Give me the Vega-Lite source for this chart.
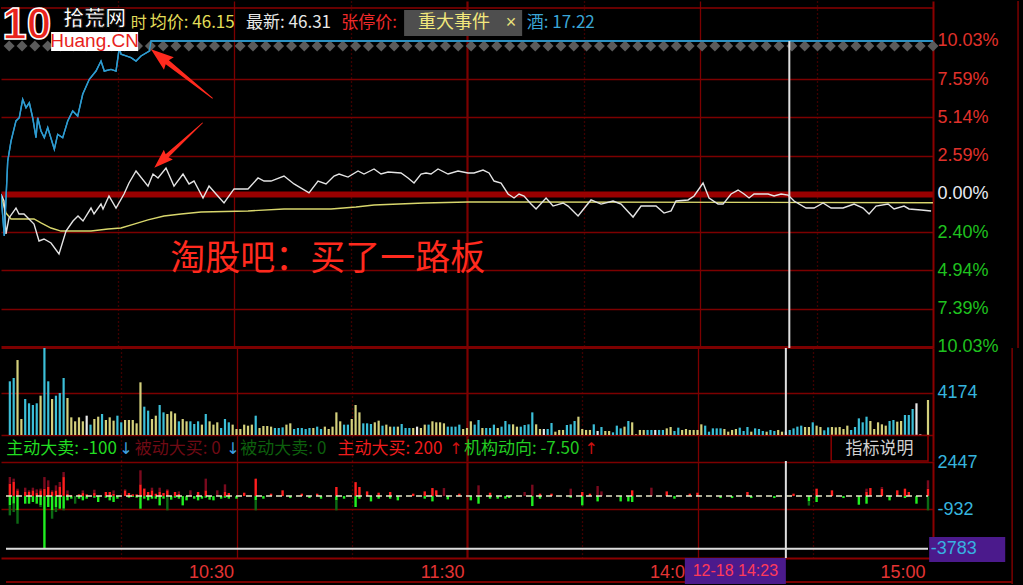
{
"$schema": "https://vega.github.io/schema/vega-lite/v6.json",
"background": "#000000",
"padding": 0,
"spacing": 0,
"bounds": "flush",
"resolve": {"scale": {"color": "independent", "y": "independent"}, "axis": {"y": "independent"}},
"config": {"view": {"stroke": null}, "text": {"font": "Noto Sans CJK SC"}},
"datasets": {
"dia": [{"m":240},{"m":236.7},{"m":233.39},{"m":230.09},{"m":226.78},{"m":223.48},{"m":220.18},{"m":216.87},{"m":213.57},{"m":210.26},{"m":206.96},{"m":203.66},{"m":200.35},{"m":197.05},{"m":193.74},{"m":190.44},{"m":187.14},{"m":183.83},{"m":180.53},{"m":177.22},{"m":173.92},{"m":170.62},{"m":167.31},{"m":164.01},{"m":160.7},{"m":157.4},{"m":154.1},{"m":150.79},{"m":147.49},{"m":144.18},{"m":140.88},{"m":137.58},{"m":134.27},{"m":130.97},{"m":127.66},{"m":124.36},{"m":121.06},{"m":117.75},{"m":114.45},{"m":111.14},{"m":107.84},{"m":104.54},{"m":101.23},{"m":97.93},{"m":94.62},{"m":91.32},{"m":88.02},{"m":84.71},{"m":81.41},{"m":78.1},{"m":74.8},{"m":71.5},{"m":68.19},{"m":64.89},{"m":61.58},{"m":58.28},{"m":54.98},{"m":51.67},{"m":48.37},{"m":45.06},{"m":41.76},{"m":38.46},{"m":35.15},{"m":31.85},{"m":28.54},{"m":25.24},{"m":21.94},{"m":18.63},{"m":15.33},{"m":12.02},{"m":8.72},{"m":5.42},{"m":2.11}],
"lines": [
{"s":"blue","m":0,"v":0},{"s":"blue","m":0.85,"v":-2.75},{"s":"blue","m":1.73,"v":2.16},{"s":"blue","m":2.58,"v":3.47},{"s":"blue","m":3.86,"v":4.79},{"s":"blue","m":4.71,"v":5.0},{"s":"blue","m":5.59,"v":6.21},{"s":"blue","m":6.44,"v":5.66},{"s":"blue","m":7.29,"v":5.98},{"s":"blue","m":8.16,"v":5.0},{"s":"blue","m":9.01,"v":3.69},{"s":"blue","m":9.45,"v":5.0},{"s":"blue","m":10.3,"v":4.13},{"s":"blue","m":11.15,"v":3.69},{"s":"blue","m":12.03,"v":4.35},{"s":"blue","m":13.73,"v":2.93},{"s":"blue","m":14.6,"v":3.91},{"s":"blue","m":15.89,"v":3.69},{"s":"blue","m":17.18,"v":4.79},{"s":"blue","m":18.46,"v":5.44},{"s":"blue","m":19.75,"v":5.11},{"s":"blue","m":21.04,"v":6.54},{"s":"blue","m":22.74,"v":7.52},{"s":"blue","m":24.47,"v":8.06},{"s":"blue","m":25.75,"v":8.72},{"s":"blue","m":26.6,"v":8.06},{"s":"blue","m":28.33,"v":8.17},{"s":"blue","m":29.62,"v":8.06},{"s":"blue","m":30.47,"v":9.59},{"s":"blue","m":30.9,"v":9.16},{"s":"blue","m":32.19,"v":9.05},{"s":"blue","m":33.48,"v":8.94},{"s":"blue","m":34.77,"v":8.72},{"s":"blue","m":36.05,"v":9.05},{"s":"blue","m":38.19,"v":9.37},{"s":"blue","m":38.63,"v":10.03},{"s":"blue","m":240,"v":10.03},
{"s":"avg","m":0,"v":-0.13},{"s":"avg","m":1.29,"v":-1.25},{"s":"avg","m":2.58,"v":-1.64},{"s":"avg","m":8.5,"v":-1.64},{"s":"avg","m":10.3,"v":-1.9},{"s":"avg","m":12.88,"v":-2.23},{"s":"avg","m":15.45,"v":-2.43},{"s":"avg","m":23.18,"v":-2.43},{"s":"avg","m":27.56,"v":-2.29},{"s":"avg","m":30.9,"v":-2.23},{"s":"avg","m":34.25,"v":-1.97},{"s":"avg","m":37.86,"v":-1.7},{"s":"avg","m":41.98,"v":-1.44},{"s":"avg","m":46.36,"v":-1.31},{"s":"avg","m":51.51,"v":-1.18},{"s":"avg","m":63.61,"v":-1.11},{"s":"avg","m":72.88,"v":-0.98},{"s":"avg","m":84.98,"v":-0.98},{"s":"avg","m":91.42,"v":-0.85},{"s":"avg","m":96.06,"v":-0.72},{"s":"avg","m":108.94,"v":-0.59},{"s":"avg","m":120.27,"v":-0.52},{"s":"avg","m":240,"v":-0.57},
{"s":"price","m":0,"v":0},{"s":"price","m":0.77,"v":-0.46},{"s":"price","m":1.29,"v":-2.62},{"s":"price","m":2.06,"v":-1.57},{"s":"price","m":3.86,"v":-0.92},{"s":"price","m":4.64,"v":-1.31},{"s":"price","m":5.92,"v":-1.31},{"s":"price","m":8.5,"v":-1.97},{"s":"price","m":9.79,"v":-3.08},{"s":"price","m":11.07,"v":-2.95},{"s":"price","m":12.88,"v":-3.21},{"s":"price","m":14.94,"v":-3.93},{"s":"price","m":16.74,"v":-2.43},{"s":"price","m":18.54,"v":-1.77},{"s":"price","m":19.83,"v":-1.44},{"s":"price","m":21.12,"v":-1.77},{"s":"price","m":23.18,"v":-0.92},{"s":"price","m":23.95,"v":-1.31},{"s":"price","m":25.75,"v":-0.66},{"s":"price","m":26.27,"v":-0.98},{"s":"price","m":27.81,"v":-0.13},{"s":"price","m":29.62,"v":-0.92},{"s":"price","m":31.68,"v":0},{"s":"price","m":32.96,"v":0.72},{"s":"price","m":34.77,"v":1.51},{"s":"price","m":37.86,"v":0.52},{"s":"price","m":39.14,"v":1.31},{"s":"price","m":40.43,"v":1.05},{"s":"price","m":42.49,"v":1.7},{"s":"price","m":44.55,"v":0.52},{"s":"price","m":46.87,"v":1.31},{"s":"price","m":48.42,"v":0.66},{"s":"price","m":49.7,"v":0.85},{"s":"price","m":52.02,"v":-0.26},{"s":"price","m":53.57,"v":0.52},{"s":"price","m":55.37,"v":0},{"s":"price","m":57.43,"v":-0.59},{"s":"price","m":60.01,"v":0.33},{"s":"price","m":63.61,"v":0.33},{"s":"price","m":66.19,"v":1.05},{"s":"price","m":67.73,"v":0.85},{"s":"price","m":69.53,"v":0.85},{"s":"price","m":72.88,"v":1.18},{"s":"price","m":75.46,"v":0.66},{"s":"price","m":79.32,"v":0.07},{"s":"price","m":81.64,"v":0.85},{"s":"price","m":83.7,"v":0.66},{"s":"price","m":85.76,"v":1.18},{"s":"price","m":87.05,"v":1.31},{"s":"price","m":89.36,"v":1.11},{"s":"price","m":91.94,"v":1.51},{"s":"price","m":93.48,"v":1.31},{"s":"price","m":96.06,"v":1.64},{"s":"price","m":97.86,"v":1.31},{"s":"price","m":99.67,"v":1.44},{"s":"price","m":103.01,"v":1.38},{"s":"price","m":104.82,"v":1.05},{"s":"price","m":106.36,"v":0.72},{"s":"price","m":108.16,"v":1.31},{"s":"price","m":109.45,"v":1.38},{"s":"price","m":110.74,"v":1.31},{"s":"price","m":112.54,"v":1.64},{"s":"price","m":115.12,"v":1.31},{"s":"price","m":117.69,"v":1.51},{"s":"price","m":120.27,"v":1.38},{"s":"price","m":121.81,"v":1.38},{"s":"price","m":124.13,"v":1.57},{"s":"price","m":125.68,"v":1.38},{"s":"price","m":126.96,"v":0.85},{"s":"price","m":128.77,"v":0.72},{"s":"price","m":130.57,"v":0},{"s":"price","m":132.11,"v":-0.26},{"s":"price","m":133.4,"v":0},{"s":"price","m":134.69,"v":-0.13},{"s":"price","m":136.49,"v":-0.66},{"s":"price","m":137.78,"v":-0.98},{"s":"price","m":140.36,"v":-0.26},{"s":"price","m":142.16,"v":-0.79},{"s":"price","m":144.73,"v":-0.59},{"s":"price","m":146.02,"v":-0.79},{"s":"price","m":148.6,"v":-1.44},{"s":"price","m":150.66,"v":-0.79},{"s":"price","m":151.94,"v":-0.39},{"s":"price","m":154.52,"v":-0.66},{"s":"price","m":157.61,"v":-0.46},{"s":"price","m":159.67,"v":-0.66},{"s":"price","m":162.76,"v":-1.51},{"s":"price","m":164.82,"v":-0.79},{"s":"price","m":168.68,"v":-0.79},{"s":"price","m":170.74,"v":-1.25},{"s":"price","m":172.55,"v":-1.11},{"s":"price","m":173.83,"v":-0.46},{"s":"price","m":176.92,"v":-0.39},{"s":"price","m":178.47,"v":-0.13},{"s":"price","m":180.79,"v":0.72},{"s":"price","m":182.33,"v":-0.26},{"s":"price","m":184.65,"v":-0.66},{"s":"price","m":185.94,"v":-0.66},{"s":"price","m":188.0,"v":0},{"s":"price","m":189.8,"v":0.26},{"s":"price","m":191.35,"v":0},{"s":"price","m":192.63,"v":-0.26},{"s":"price","m":193.92,"v":0},{"s":"price","m":197.53,"v":0},{"s":"price","m":199.07,"v":-0.13},{"s":"price","m":200.88,"v":0},{"s":"price","m":202.68,"v":-0.07},{"s":"price","m":204.22,"v":-0.46},{"s":"price","m":207.31,"v":-0.92},{"s":"price","m":209.37,"v":-0.92},{"s":"price","m":211.69,"v":-0.59},{"s":"price","m":213.75,"v":-0.92},{"s":"price","m":216.84,"v":-0.92},{"s":"price","m":219.68,"v":-0.66},{"s":"price","m":221.99,"v":-0.92},{"s":"price","m":223.54,"v":-1.31},{"s":"price","m":225.34,"v":-0.79},{"s":"price","m":228.43,"v":-0.66},{"s":"price","m":229.98,"v":-0.98},{"s":"price","m":232.55,"v":-0.79},{"s":"price","m":233.84,"v":-0.98},{"s":"price","m":236.93,"v":-1.05},{"s":"price","m":239.51,"v":-1.11}
],
"vol": [
{"m":1,"v":5335,"c":"down"},{"m":2,"v":5665,"c":"down"},{"m":3,"v":7450,"c":"up"},{"m":4,"v":1590,"c":"up"},{"m":5,"v":3580,"c":"down"},{"m":6,"v":3150,"c":"down"},{"m":7,"v":2980,"c":"down"},{"m":8,"v":3150,"c":"down"},{"m":9,"v":3910,"c":"up"},{"m":10,"v":8650,"c":"down"},
{"m":11,"v":5335,"c":"down"},{"m":12,"v":3580,"c":"up"},{"m":13,"v":3910,"c":"down"},{"m":14,"v":4170,"c":"down"},{"m":15,"v":5665,"c":"down"},{"m":16,"v":3680,"c":"up"},{"m":17,"v":1755,"c":"up"},{"m":18,"v":1360,"c":"up"},{"m":19,"v":1755,"c":"up"},{"m":20,"v":1360,"c":"up"},
{"m":21,"v":1920,"c":"flat"},{"m":22,"v":1030,"c":"down"},{"m":23,"v":1590,"c":"up"},{"m":24,"v":1820,"c":"up"},{"m":25,"v":2090,"c":"down"},{"m":26,"v":1490,"c":"up"},{"m":27,"v":1755,"c":"up"},{"m":28,"v":1425,"c":"up"},{"m":29,"v":1920,"c":"down"},{"m":30,"v":1260,"c":"down"},
{"m":31,"v":1490,"c":"up"},{"m":32,"v":1490,"c":"up"},{"m":33,"v":1490,"c":"up"},{"m":34,"v":1160,"c":"up"},{"m":35,"v":5235,"c":"up"},{"m":36,"v":2815,"c":"down"},{"m":37,"v":2420,"c":"down"},{"m":38,"v":1590,"c":"up"},{"m":39,"v":1920,"c":"up"},{"m":40,"v":2980,"c":"down"},
{"m":41,"v":2250,"c":"down"},{"m":42,"v":2090,"c":"up"},{"m":43,"v":2350,"c":"up"},{"m":44,"v":2150,"c":"up"},{"m":45,"v":1360,"c":"down"},{"m":46,"v":1590,"c":"up"},{"m":47,"v":1360,"c":"up"},{"m":48,"v":1360,"c":"down"},{"m":49,"v":1095,"c":"down"},{"m":50,"v":1360,"c":"down"},
{"m":51,"v":1030,"c":"up"},{"m":52,"v":2090,"c":"down"},{"m":53,"v":1360,"c":"up"},{"m":54,"v":1030,"c":"up"},{"m":55,"v":1260,"c":"up"},{"m":56,"v":695,"c":"down"},{"m":57,"v":1590,"c":"down"},{"m":58,"v":1260,"c":"down"},{"m":59,"v":1030,"c":"up"},{"m":60,"v":595,"c":"up"},
{"m":61,"v":595,"c":"up"},{"m":62,"v":1030,"c":"up"},{"m":63,"v":925,"c":"up"},{"m":64,"v":1030,"c":"up"},{"m":65,"v":1920,"c":"down"},{"m":66,"v":695,"c":"up"},{"m":67,"v":895,"c":"up"},{"m":68,"v":895,"c":"up"},{"m":69,"v":830,"c":"up"},{"m":70,"v":695,"c":"down"},
{"m":71,"v":695,"c":"down"},{"m":72,"v":760,"c":"down"},{"m":73,"v":1030,"c":"up"},{"m":74,"v":1160,"c":"up"},{"m":75,"v":595,"c":"down"},{"m":76,"v":695,"c":"down"},{"m":77,"v":695,"c":"down"},{"m":78,"v":595,"c":"down"},{"m":79,"v":695,"c":"down"},{"m":80,"v":695,"c":"up"},
{"m":81,"v":830,"c":"down"},{"m":82,"v":595,"c":"down"},{"m":83,"v":830,"c":"up"},{"m":84,"v":595,"c":"up"},{"m":85,"v":830,"c":"up"},{"m":86,"v":2250,"c":"up"},{"m":87,"v":1360,"c":"up"},{"m":88,"v":1030,"c":"down"},{"m":89,"v":1030,"c":"down"},{"m":90,"v":1590,"c":"up"},
{"m":91,"v":2980,"c":"up"},{"m":92,"v":2250,"c":"up"},{"m":93,"v":1160,"c":"down"},{"m":94,"v":1160,"c":"down"},{"m":95,"v":1095,"c":"down"},{"m":96,"v":1260,"c":"up"},{"m":97,"v":1425,"c":"up"},{"m":98,"v":925,"c":"down"},{"m":99,"v":1030,"c":"up"},{"m":100,"v":830,"c":"up"},
{"m":101,"v":830,"c":"down"},{"m":102,"v":830,"c":"up"},{"m":103,"v":1095,"c":"down"},{"m":104,"v":695,"c":"down"},{"m":105,"v":695,"c":"down"},{"m":106,"v":695,"c":"up"},{"m":107,"v":830,"c":"flat"},{"m":108,"v":695,"c":"up"},{"m":109,"v":1030,"c":"up"},{"m":110,"v":1030,"c":"down"},
{"m":111,"v":1360,"c":"up"},{"m":112,"v":1260,"c":"up"},{"m":113,"v":1260,"c":"up"},{"m":114,"v":1160,"c":"up"},{"m":115,"v":830,"c":"down"},{"m":116,"v":830,"c":"down"},{"m":117,"v":830,"c":"down"},{"m":118,"v":1030,"c":"down"},{"m":119,"v":595,"c":"up"},{"m":120,"v":695,"c":"up"},
{"m":121,"v":1360,"c":"up"},{"m":122,"v":1030,"c":"down"},{"m":123,"v":1490,"c":"down"},{"m":124,"v":695,"c":"up"},{"m":125,"v":695,"c":"down"},{"m":126,"v":695,"c":"down"},{"m":127,"v":1030,"c":"down"},{"m":128,"v":695,"c":"up"},{"m":129,"v":830,"c":"down"},{"m":130,"v":1390,"c":"down"},
{"m":131,"v":1060,"c":"down"},{"m":132,"v":1060,"c":"up"},{"m":133,"v":830,"c":"up"},{"m":134,"v":830,"c":"down"},{"m":135,"v":995,"c":"down"},{"m":136,"v":1060,"c":"down"},{"m":137,"v":2250,"c":"down"},{"m":138,"v":1060,"c":"up"},{"m":139,"v":595,"c":"up"},{"m":140,"v":595,"c":"flat"},
{"m":141,"v":595,"c":"down"},{"m":142,"v":1190,"c":"down"},{"m":143,"v":330,"c":"up"},{"m":144,"v":500,"c":"up"},{"m":145,"v":500,"c":"up"},{"m":146,"v":995,"c":"down"},{"m":147,"v":1060,"c":"down"},{"m":148,"v":1390,"c":"down"},{"m":149,"v":1820,"c":"up"},{"m":150,"v":595,"c":"up"},
{"m":151,"v":500,"c":"up"},{"m":152,"v":500,"c":"up"},{"m":153,"v":1060,"c":"down"},{"m":154,"v":400,"c":"flat"},{"m":155,"v":795,"c":"down"},{"m":156,"v":400,"c":"up"},{"m":157,"v":400,"c":"up"},{"m":158,"v":265,"c":"down"},{"m":159,"v":930,"c":"down"},{"m":160,"v":660,"c":"down"},
{"m":161,"v":830,"c":"up"},{"m":162,"v":1390,"c":"down"},{"m":163,"v":1260,"c":"up"},{"m":164,"v":66,"c":"up"},{"m":165,"v":500,"c":"up"},{"m":166,"v":500,"c":"up"},{"m":167,"v":500,"c":"down"},{"m":168,"v":500,"c":"down"},{"m":169,"v":500,"c":"flat"},{"m":170,"v":500,"c":"down"},
{"m":171,"v":500,"c":"down"},{"m":172,"v":660,"c":"up"},{"m":173,"v":795,"c":"up"},{"m":174,"v":400,"c":"down"},{"m":175,"v":730,"c":"down"},{"m":176,"v":500,"c":"up"},{"m":177,"v":595,"c":"up"},{"m":178,"v":500,"c":"up"},{"m":179,"v":500,"c":"up"},{"m":180,"v":500,"c":"up"},
{"m":181,"v":1060,"c":"up"},{"m":182,"v":930,"c":"down"},{"m":183,"v":330,"c":"down"},{"m":184,"v":660,"c":"down"},{"m":185,"v":660,"c":"down"},{"m":186,"v":660,"c":"down"},{"m":187,"v":595,"c":"up"},{"m":188,"v":330,"c":"up"},{"m":189,"v":500,"c":"up"},{"m":190,"v":595,"c":"up"},
{"m":191,"v":730,"c":"down"},{"m":192,"v":400,"c":"down"},{"m":193,"v":795,"c":"down"},{"m":194,"v":330,"c":"up"},{"m":195,"v":660,"c":"down"},{"m":196,"v":595,"c":"down"},{"m":197,"v":400,"c":"down"},{"m":198,"v":330,"c":"up"},{"m":199,"v":500,"c":"down"},{"m":200,"v":400,"c":"down"},
{"m":201,"v":500,"c":"up"},{"m":202,"v":330,"c":"up"},{"m":203,"v":330,"c":"down"},{"m":204,"v":500,"c":"down"},{"m":205,"v":660,"c":"down"},{"m":206,"v":830,"c":"down"},{"m":207,"v":930,"c":"down"},{"m":208,"v":795,"c":"up"},{"m":209,"v":795,"c":"up"},{"m":210,"v":1260,"c":"down"},
{"m":211,"v":930,"c":"up"},{"m":212,"v":795,"c":"up"},{"m":213,"v":465,"c":"down"},{"m":214,"v":760,"c":"down"},{"m":215,"v":795,"c":"up"},{"m":216,"v":760,"c":"up"},{"m":217,"v":795,"c":"up"},{"m":218,"v":595,"c":"up"},{"m":219,"v":930,"c":"up"},{"m":220,"v":500,"c":"down"},
{"m":221,"v":795,"c":"down"},{"m":222,"v":1655,"c":"down"},{"m":223,"v":1260,"c":"down"},{"m":224,"v":1820,"c":"down"},{"m":225,"v":1390,"c":"up"},{"m":226,"v":595,"c":"up"},{"m":227,"v":1260,"c":"up"},{"m":228,"v":1060,"c":"up"},{"m":229,"v":930,"c":"up"},{"m":230,"v":1390,"c":"down"},
{"m":231,"v":1490,"c":"down"},{"m":232,"v":1325,"c":"up"},{"m":233,"v":1390,"c":"up"},{"m":234,"v":1990,"c":"down"},{"m":235,"v":1990,"c":"down"},{"m":236,"v":2585,"c":"down"},{"m":237,"v":3150,"c":"flat"},{"m":238,"v":66,"c":"flat"},{"m":240,"v":3480,"c":"up"}
],
"ind": [
{"m":1,"r":890,"dr":480,"g":-670,"dg":-720},{"m":2,"r":1010,"dr":240,"g":-550,"dg":-600},{"m":3,"r":410,"dr":120,"g":-1030,"dg":-960},{"m":5,"r":290,"dr":310,"g":-550},{"m":6,"r":290,"dr":120,"g":-550},{"m":7,"r":410,"dr":190,"g":-430},{"m":8,"r":215,"dr":265,"g":-550},{"m":9,"r":410,"dr":120,"g":-670,"dg":-120},{"m":10,"r":525,"dr":840,"g":-3783},{"m":11,"r":650,"dr":480,"g":-790},{"m":12,"r":290,"dr":120,"g":-1030,"dg":-600},{"m":13,"r":410,"dr":360,"g":-790,"dg":-360},{"m":14,"r":650,"dr":360,"g":-910},{"m":15,"r":1365,"dr":360,"g":-910,"dg":-120},{"m":16,"r":165,"dr":240,"g":-310},{"m":17,"r":50,"g":-190},{"m":18,"dg":-550},{"m":19,"r":120,"g":-190},{"m":20,"r":215,"dr":190,"g":-310},{"m":21,"r":120,"g":-190},{"m":23,"r":215,"dr":240,"g":-120},{"m":24,"g":-430},{"m":26,"r":290,"g":-120},{"m":27,"r":290,"g":-310},{"m":28,"r":165,"dr":240,"g":-430},{"m":29,"g":-190},{"m":31,"r":410,"dr":70},{"m":32,"r":215,"g":-120},{"m":33,"r":120,"g":-70},{"m":34,"r":120,"g":-120},{"m":35,"r":840,"dr":1010,"g":-910},{"m":36,"r":525,"dr":50,"g":-190},{"m":37,"r":290,"g":-310},{"m":38,"r":410,"dr":190,"g":-190},{"m":39,"r":165,"g":-190},{"m":40,"r":290,"dr":310,"g":-670},{"m":41,"r":215,"g":-190},{"m":42,"r":410,"dr":70,"dg":-1030},{"m":43,"g":-260},{"m":44,"r":290,"g":-120},{"m":45,"r":165,"dr":165,"g":-190},{"m":46,"g":-670},{"m":47,"g":-310},{"m":48,"dr":410},{"m":49,"g":-190},{"m":50,"r":290,"g":-310},{"m":51,"g":-190},{"m":52,"r":410,"dr":840,"g":-120},{"m":53,"g":-260},{"m":54,"g":-310},{"m":55,"dr":410},{"m":56,"g":-190},{"m":57,"r":290,"dr":550,"g":-120},{"m":58,"r":215,"g":-190},{"m":60,"g":-190},{"m":62,"r":240},{"m":65,"r":1250,"g":-310,"dg":-720},{"m":67,"g":-190},{"m":69,"r":170},{"m":72,"r":410},{"m":74,"g":-145},{"m":77,"r":170},{"m":79,"g":-145},{"m":81,"r":170},{"m":82,"g":-190},{"m":86,"r":650,"g":-310,"dg":-720},{"m":88,"g":-190},{"m":91,"r":1000,"g":-790},{"m":92,"r":650,"g":-190},{"m":94,"r":335},{"m":95,"g":-385},{"m":97,"r":240,"g":-190},{"m":100,"r":290,"g":-190},{"m":102,"g":-310},{"m":106,"r":170},{"m":109,"r":335,"g":-190},{"m":111,"r":575,"g":-385},{"m":112,"r":410},{"m":114,"dr":575},{"m":115,"g":-240},{"m":118,"r":170},{"m":121,"g":-310},{"m":123,"dr":770,"g":-550},{"m":126,"r":240,"g":-190},{"m":128,"g":-190},{"m":130,"g":-190},{"m":131,"g":-145},{"m":135,"dr":290},{"m":137,"dr":815,"g":-720},{"m":139,"r":170,"g":-190},{"m":142,"r":170},{"m":147,"dr":530,"g":-120},{"m":150,"r":290,"g":-670},{"m":152,"r":170},{"m":154,"dr":720,"g":-385},{"m":155,"dr":335},{"m":160,"g":-385},{"m":162,"g":-385},{"m":163,"r":410,"g":-430},{"m":168,"dr":600},{"m":172,"r":335},{"m":174,"g":-190},{"m":178,"r":170},{"m":180,"r":240},{"m":186,"g":-145},{"m":189,"g":-145},{"m":193,"r":290},{"m":194,"g":-145},{"m":200,"g":-145},{"m":205,"r":170},{"m":209,"g":-385,"dg":-300},{"m":211,"r":530,"g":-430},{"m":215,"r":410},{"m":218,"g":-145},{"m":222,"g":-625},{"m":224,"r":300,"dr":230,"g":-550},{"m":225,"r":575},{"m":228,"r":530,"dr":120},{"m":230,"g":-310},{"m":232,"r":410},{"m":234,"r":530,"g":-145},{"m":235,"r":290},{"m":237,"g":-550},{"m":240,"r":530,"dr":600,"dg":-1030}
]
},
"vconcat": [
{
"width": 932, "height": 347,
"layer": [
 {"data": {"name": "lines"}, "mark": {"type": "line", "strokeWidth": 1.4, "clip": true},
  "encoding": {
   "x": {"field": "m", "type": "quantitative", "scale": {"domain": [0, 240], "nice": false, "zero": false},
    "axis": {"title": null, "values": [30,60,90,120,150,180,210], "labels": false, "ticks": false, "domain": false, "grid": true, "gridColor": "#7c0000", "gridWidth": {"condition": {"test": "datum.value == 120", "value": 2.2}, "value": 1.3}, "gridDash": {"condition": {"test": "datum.value % 60 == 30", "value": [1, 3]}, "value": []}}},
   "y": {"field": "v", "type": "quantitative", "scale": {"domain": [-10.0956, 12.652], "nice": false, "zero": false},
    "axis": {"title": null, "orient": "right", "values": [10.03, 7.5225, 5.015, 2.5075, 0, -2.5075, -5.015, -7.5225, -10.03], "grid": true,
     "gridColor": {"condition": [{"test": "datum.value == 0", "value": "#9a0000"}, {"test": "datum.value > 10", "value": "rgba(0,0,0,0)"}], "value": "#7c0000"},
     "gridWidth": {"condition": [{"test": "datum.value == 0", "value": 6}, {"test": "datum.value < -10", "value": 3}], "value": 1.3},
     "ticks": false, "domain": true, "domainColor": "#8a0000", "domainWidth": 2, "labelPadding": 4, "labelFont": "Liberation Sans", "labelFontSize": 18, "labelOverlap": false,
     "labelColor": {"condition": [{"test": "datum.value > 0.1", "value": "#e0312b"}, {"test": "datum.value < -0.1", "value": "#1fc21f"}], "value": "#e8ecf4"},
     "labelExpr": "datum.value > 9 ? '10.03%' : datum.value > 7 ? '7.59%' : datum.value > 4 ? '5.14%' : datum.value > 2 ? '2.59%' : datum.value > -1 ? '0.00%' : datum.value > -3 ? '2.40%' : datum.value > -6 ? '4.94%' : datum.value > -8 ? '7.39%' : '10.03%'"}},
   "color": {"field": "s", "type": "nominal", "scale": {"domain": ["blue", "avg", "price"], "range": ["#2e9bd0", "#d8d66c", "#e4e4e4"]}, "legend": null}}},
 {"data": {"name": "dia"}, "mark": {"type": "point", "shape": "diamond", "filled": true, "color": "#5b5b5b", "opacity": 1, "size": 120},
  "encoding": {"x": {"field": "m", "type": "quantitative"}, "y": {"datum": 9.7}}},
 {"data": {"name": "lines"}, "transform": [{"filter": "datum.s == 'blue'"}], "mark": {"type": "line", "strokeWidth": 1.4, "clip": true, "color": "#2e9bd0"},
  "encoding": {"x": {"field": "m", "type": "quantitative"}, "y": {"field": "v", "type": "quantitative"}}},
 {"data": {"values": [{}]}, "mark": {"type": "rule", "color": "#8a0000", "strokeWidth": 1.5}, "encoding": {"x": {"datum": 0}, "x2": {"datum": 240}, "y": {"datum": 12.19}}},
 {"data": {"values": [{}]}, "mark": {"type": "rule", "color": "#7a0000", "strokeWidth": 1.5}, "encoding": {"x": {"datum": 261.9}, "y": {"datum": 12.652}, "y2": {"datum": -10.0956}}},
 {"data": {"values": [{}]}, "mark": {"type": "rect", "color": "#000000"}, "encoding": {"x": {"datum": 262.4}, "x2": {"datum": 264.5}, "y": {"datum": 12.652}, "y2": {"datum": -10.0956}}},
 {"data": {"values": [{}]}, "mark": {"type": "rule", "color": "#e0e0e0", "strokeWidth": 2}, "encoding": {"x": {"datum": 203}, "y": {"datum": 10.03}, "y2": {"datum": -10.0956}}},
 {"data": {"values": [{}]}, "mark": {"type": "text", "align": "left", "baseline": "middle", "fontSize": 35, "color": "#ff2a1e"}, "encoding": {"x": {"datum": 43.6}, "y": {"datum": -4.26}, "text": {"value": "淘股吧：买了一路板"}}},
 {"data": {"values": [{}]}, "mark": {"type": "point", "shape": "M0,-1L0.2,-0.42L0.065,-0.47L0.012,1L-0.012,1L-0.065,-0.47L-0.2,-0.42Z", "filled": true, "color": "#ff2a1e", "opacity": 1, "size": 6209, "angle": 308.5}, "encoding": {"x": {"datum": 46.56}, "y": {"datum": 7.88}}},
 {"data": {"values": [{}]}, "mark": {"type": "point", "shape": "M0,-1L0.2,-0.42L0.065,-0.47L0.012,1L-0.012,1L-0.065,-0.47L-0.2,-0.42Z", "filled": true, "color": "#ff2a1e", "opacity": 1, "size": 4369, "angle": 227.1}, "encoding": {"x": {"datum": 45.71}, "y": {"datum": 3.2}}},
 {"data": {"values": [{}]}, "mark": {"type": "text", "align": "left", "baseline": "middle", "fontSize": 44, "fontWeight": "bold", "font": "Liberation Sans", "color": "#e8231c", "stroke": "#ffffff", "strokeWidth": 1.5}, "encoding": {"x": {"datum": 0.3}, "y": {"datum": 11.0}, "text": {"value": "10"}}},
 {"data": {"values": [{}]}, "mark": {"type": "text", "align": "left", "baseline": "middle", "fontSize": 21, "fontWeight": "bold", "color": "#ffffff", "stroke": "#000000", "strokeWidth": 0.8}, "encoding": {"x": {"datum": 16.0}, "y": {"datum": 11.5}, "text": {"value": "拾荒网"}}},
 {"data": {"values": [{}]}, "mark": {"type": "rect", "color": "#ffffff"}, "encoding": {"x": {"datum": 12.9}, "x2": {"datum": 35.3}, "y": {"datum": 10.62}, "y2": {"datum": 9.37}}},
 {"data": {"values": [{}]}, "mark": {"type": "text", "align": "center", "baseline": "middle", "fontSize": 19, "font": "Liberation Sans", "color": "#e8231c"}, "encoding": {"x": {"datum": 24.1}, "y": {"datum": 10.0}, "text": {"value": "Huang.CN"}}},
 {"data": {"values": [{}]}, "mark": {"type": "text", "align": "left", "baseline": "middle", "fontSize": 16, "color": "#e0dc5a"}, "encoding": {"x": {"datum": 33.4}, "y": {"datum": 11.21}, "text": {"value": "时"}}},
 {"data": {"values": [{}]}, "mark": {"type": "text", "align": "left", "baseline": "middle", "fontSize": 17, "color": "#e2de58"}, "encoding": {"x": {"datum": 38.3}, "y": {"datum": 11.21}, "text": {"value": "均价: 46.15"}}},
 {"data": {"values": [{}]}, "mark": {"type": "text", "align": "left", "baseline": "middle", "fontSize": 17, "color": "#e8e8e8"}, "encoding": {"x": {"datum": 63.1}, "y": {"datum": 11.21}, "text": {"value": "最新: 46.31"}}},
 {"data": {"values": [{}]}, "mark": {"type": "text", "align": "left", "baseline": "middle", "fontSize": 17, "color": "#ee2a2a"}, "encoding": {"x": {"datum": 87.6}, "y": {"datum": 11.21}, "text": {"value": "张停价:"}}},
 {"data": {"values": [{}]}, "mark": {"type": "text", "align": "left", "baseline": "middle", "fontSize": 17, "color": "#3aa6d6"}, "encoding": {"x": {"datum": 135.4}, "y": {"datum": 11.21}, "text": {"value": "酒: 17.22"}}},
 {"data": {"values": [{}]}, "mark": {"type": "rect", "color": "#4e4e4e"}, "encoding": {"x": {"datum": 103.8}, "x2": {"datum": 134.2}, "y": {"datum": 12.06}, "y2": {"datum": 10.36}}},
 {"data": {"values": [{}]}, "mark": {"type": "text", "align": "left", "baseline": "middle", "fontSize": 18, "color": "#f2e87c"}, "encoding": {"x": {"datum": 107.4}, "y": {"datum": 11.21}, "text": {"value": "重大事件"}}},
 {"data": {"values": [{}]}, "mark": {"type": "text", "align": "left", "baseline": "middle", "fontSize": 18, "font": "Liberation Sans", "color": "#e8e07a"}, "encoding": {"x": {"datum": 130.0}, "y": {"datum": 11.21}, "text": {"value": "×"}}}
]
},
{
"width": 932, "height": 113,
"layer": [
 {"data": {"values": [{}]}, "mark": {"type": "rule", "color": "#7a0000", "strokeWidth": 1.5}, "encoding": {"x": {"datum": 261.9}, "y": {"datum": 8646}, "y2": {"datum": -2584}}},
 {"data": {"name": "vol"}, "mark": {"type": "bar", "size": 2.2, "clip": true},
  "encoding": {
   "x": {"field": "m", "type": "quantitative", "scale": {"domain": [0, 240], "nice": false, "zero": false},
    "axis": {"title": null, "values": [30,60,90,120,150,180,210], "labels": false, "ticks": false, "domain": false, "grid": true, "gridColor": "#7c0000", "gridWidth": {"condition": {"test": "datum.value == 120", "value": 2.2}, "value": 1.3}, "gridDash": {"condition": {"test": "datum.value % 60 == 30", "value": [1, 3]}, "value": []}}},
   "y": {"field": "v", "type": "quantitative", "scale": {"domain": [-2584, 8646], "nice": false, "zero": false},
    "axis": {"title": null, "orient": "right", "values": [0, 4174], "grid": true, "gridColor": "#7c0000", "gridWidth": 1.3, "ticks": false, "domain": true, "domainColor": "#8a0000", "domainWidth": 2, "labelPadding": 4, "labelFont": "Liberation Sans", "labelFontSize": 18, "labelColor": "#36b4de", "labelOverlap": false, "labelExpr": "datum.value > 0 ? '4174' : ''"}},
   "y2": {"datum": 0},
   "color": {"field": "c", "type": "nominal", "scale": {"domain": ["up", "down", "flat"], "range": ["#d4d07c", "#3cbfd8", "#e8e8e8"]}, "legend": null}}},
 {"data": {"values": [{}]}, "mark": {"type": "rule", "color": "#e0e0e0", "strokeWidth": 2}, "encoding": {"x": {"datum": 203}, "y": {"datum": 8646}, "y2": {"datum": 0}}},
 {"data": {"values": [{}]}, "mark": {"type": "rect", "fill": "#000000", "stroke": "#8a0000", "strokeWidth": 1.5}, "encoding": {"x": {"datum": 214.8}, "x2": {"datum": 240}, "y": {"datum": -60}, "y2": {"datum": -2584}}},
 {"data": {"values": [{}]}, "mark": {"type": "text", "align": "center", "baseline": "middle", "fontSize": 17, "color": "#d0d0d0"}, "encoding": {"x": {"datum": 227.4}, "y": {"datum": -1400}, "text": {"value": "指标说明"}}},
 {"data": {"values": [{}]}, "mark": {"type": "text", "align": "left", "baseline": "middle", "fontSize": 17, "color": "#22dd22"}, "encoding": {"x": {"datum": 0.05}, "y": {"datum": -1400}, "text": {"value": "主动大卖: -100"}}},
 {"data": {"values": [{}]}, "mark": {"type": "text", "align": "left", "baseline": "middle", "fontSize": 16, "font": "DejaVu Sans", "color": "#3fa0e0"}, "encoding": {"x": {"datum": 29.5}, "y": {"datum": -1400}, "text": {"value": "↓"}}},
 {"data": {"values": [{}]}, "mark": {"type": "text", "align": "left", "baseline": "middle", "fontSize": 17, "color": "#6e0a14"}, "encoding": {"x": {"datum": 33.5}, "y": {"datum": -1400}, "text": {"value": "被动大买: 0"}}},
 {"data": {"values": [{}]}, "mark": {"type": "text", "align": "left", "baseline": "middle", "fontSize": 16, "font": "DejaVu Sans", "color": "#3fa0e0"}, "encoding": {"x": {"datum": 57.3}, "y": {"datum": -1400}, "text": {"value": "↓"}}},
 {"data": {"values": [{}]}, "mark": {"type": "text", "align": "left", "baseline": "middle", "fontSize": 17, "color": "#0d5f0d"}, "encoding": {"x": {"datum": 61.0}, "y": {"datum": -1400}, "text": {"value": "被动大卖: 0"}}},
 {"data": {"values": [{}]}, "mark": {"type": "text", "align": "left", "baseline": "middle", "fontSize": 17, "color": "#ee1c1c"}, "encoding": {"x": {"datum": 86.3}, "y": {"datum": -1400}, "text": {"value": "主动大买: 200"}}},
 {"data": {"values": [{}]}, "mark": {"type": "text", "align": "left", "baseline": "middle", "fontSize": 16, "font": "DejaVu Sans", "color": "#cc1111"}, "encoding": {"x": {"datum": 115.4}, "y": {"datum": -1400}, "text": {"value": "↑"}}},
 {"data": {"values": [{}]}, "mark": {"type": "text", "align": "left", "baseline": "middle", "fontSize": 17, "color": "#22cc22"}, "encoding": {"x": {"datum": 119.2}, "y": {"datum": -1400}, "text": {"value": "机构动向: -7.50"}}},
 {"data": {"values": [{}]}, "mark": {"type": "text", "align": "left", "baseline": "middle", "fontSize": 16, "font": "DejaVu Sans", "color": "#cc1111"}, "encoding": {"x": {"datum": 150.6}, "y": {"datum": -1400}, "text": {"value": "↑"}}}
]
},
{
"width": 932, "height": 97,
"layer": [
 {"data": {"values": [{}]}, "mark": {"type": "rule", "color": "#7a0000", "strokeWidth": 1.5}, "encoding": {"x": {"datum": 261.9}, "y": {"datum": 2519}, "y2": {"datum": -6324}}},
 {"data": {"values": [{}]}, "mark": {"type": "rule", "color": "#7a0000", "strokeWidth": 2}, "encoding": {"x": {"datum": 0}, "x2": {"datum": 261.9}, "y": {"datum": -6180}}},
 {"data": {"values": [{}]}, "mark": {"type": "rect", "color": "#000000"}, "encoding": {"x": {"datum": 0}, "x2": {"datum": 264.5}, "y": {"datum": -6400}, "y2": {"datum": -7000}}},
 {"data": {"name": "ind"}, "transform": [{"fold": ["r", "dr", "g", "dg"], "as": ["k", "v"]}, {"filter": "isValid(datum.v)"}], "mark": {"type": "bar", "size": 2.4, "clip": true},
  "encoding": {
   "x": {"field": "m", "type": "quantitative", "scale": {"domain": [0, 240], "nice": false, "zero": false},
    "axis": {"title": null, "values": [30,60,90,120,150,180,210,240], "labelExpr": "datum.value == 60 ? '10:30' : datum.value == 120 ? '11:30' : datum.value == 180 ? '14:0' : datum.value == 240 ? '15:00' : ''", "labelAlign": "right", "labelOffset": {"condition": {"test": "datum.value == 180", "value": -13}, "value": -3}, "labelColor": "#e43434", "labelFont": "Liberation Sans", "labelFontSize": 18, "labelPadding": 5, "labelBound": false, "labelFlush": false, "labelOverlap": false, "ticks": false, "domain": true, "domainColor": "#8a0000", "domainWidth": 2, "grid": true,
     "gridColor": {"condition": {"test": "datum.value > 230", "value": "rgba(0,0,0,0)"}, "value": "#7c0000"}, "gridWidth": {"condition": {"test": "datum.value == 120", "value": 2.2}, "value": 1.3}, "gridDash": {"condition": {"test": "datum.value % 60 == 30", "value": [1, 3]}, "value": []}}},
   "y": {"field": "v", "type": "quantitative", "stack": "zero", "scale": {"domain": [-4454, 2519], "nice": false, "zero": false},
    "axis": {"title": null, "orient": "right", "values": [2447, -932], "grid": true, "gridColor": "#7c0000", "gridWidth": 1.3, "ticks": false, "domain": true, "domainColor": "#8a0000", "domainWidth": 2, "labelPadding": 4, "labelFont": "Liberation Sans", "labelFontSize": 18, "labelColor": "#36b4de", "labelOverlap": false, "labelExpr": "datum.value > 0 ? '2447' : '-932'"}},
   "color": {"field": "k", "type": "nominal", "scale": {"domain": ["r", "dr", "g", "dg"], "range": ["#ff1e1e", "#7a0a1e", "#20ee20", "#0c6a14"]}, "legend": null},
   "order": {"field": "k", "sort": "descending"}}},
 {"data": {"values": [{}]}, "mark": {"type": "rule", "color": "#e6e6c8", "strokeWidth": 1.5, "strokeDash": [6, 4]}, "encoding": {"x": {"datum": 0}, "x2": {"datum": 240}, "y": {"datum": 0}}},
 {"data": {"values": [{}]}, "mark": {"type": "rule", "color": "#e0e0e0", "strokeWidth": 2}, "encoding": {"x": {"datum": 203}, "y": {"datum": 2519}, "y2": {"datum": -4454}}},
 {"data": {"values": [{}]}, "mark": {"type": "rule", "color": "#dcdcdc", "strokeWidth": 2}, "encoding": {"x": {"datum": 0}, "x2": {"datum": 240}, "y": {"datum": -3783}}},
 {"data": {"values": [{}]}, "mark": {"type": "rect", "color": "#4b1a8c"}, "encoding": {"x": {"datum": 240.3}, "x2": {"datum": 260.1}, "y": {"datum": -2945}, "y2": {"datum": -4742}}},
 {"data": {"values": [{}]}, "mark": {"type": "text", "align": "left", "baseline": "middle", "fontSize": 18, "font": "Liberation Sans", "color": "#38b0e0"}, "encoding": {"x": {"datum": 240.7}, "y": {"datum": -3800}, "text": {"value": "-3783"}}},
 {"data": {"values": [{}]}, "mark": {"type": "rect", "color": "#4b1a8c"}, "encoding": {"x": {"datum": 176.7}, "x2": {"datum": 203}, "y": {"datum": -4454}, "y2": {"datum": -6324}}},
 {"data": {"values": [{}]}, "mark": {"type": "text", "align": "center", "baseline": "middle", "fontSize": 16, "font": "Liberation Sans", "color": "#ff3a5a"}, "encoding": {"x": {"datum": 189.85}, "y": {"datum": -5400}, "text": {"value": "12-18 14:23"}}}
]
}
]
}
